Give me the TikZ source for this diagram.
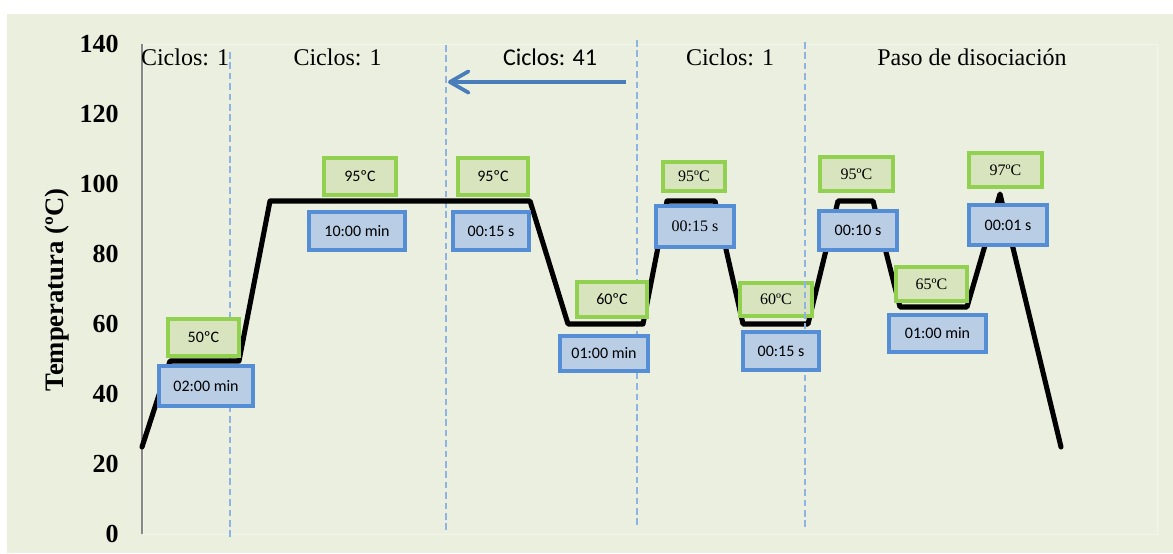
\documentclass[tikz,border=0pt]{standalone}
\usepackage{fontspec}
\setmainfont{Liberation Serif}
\newfontfamily\carlito{Carlito}
\usetikzlibrary{arrows.meta}

\definecolor{bgcol}{HTML}{EBEFDE}
\definecolor{plotcol}{HTML}{EBEFDF}
\definecolor{greenline}{HTML}{92D050}
\definecolor{greenfill}{HTML}{D7E4BD}
\definecolor{blueline}{HTML}{558ED5}
\definecolor{bluefill}{HTML}{B9CDE5}
\definecolor{dashcol}{HTML}{8EB4E3}
\definecolor{arrowcol}{HTML}{4A7EBB}
\definecolor{axiscol}{HTML}{878787}

\tikzset{
  boxsize/.style 2 args={minimum width=#1*0.75pt, minimum height=#2*0.75pt},
  tempbox/.style={draw=greenline, fill=greenfill, line width=2.9pt, inner sep=0pt},
  timebox/.style={draw=blueline, fill=bluefill, line width=2.9pt, inner sep=0pt},
  sanstext/.style={font=\carlito\fontsize{12}{14}\selectfont},
  seriftext/.style={font=\fontsize{12}{14}\selectfont},
  ticklabel/.style={anchor=east, inner sep=0pt, font=\bfseries\fontsize{19.5}{22}\selectfont},
  phaselabel/.style={anchor=base, inner sep=0pt, font=\fontsize{18}{20}\selectfont},
  divider/.style={draw=dashcol, line width=1.8pt, dash pattern=on 5pt off 2.8pt},
  profile/.style={draw=black, line width=3.8pt, line join=round, line cap=round},
}

\begin{document}
\begin{tikzpicture}[x=0.75pt, y=-0.75pt]
\useasboundingbox (0,0) rectangle (1173,553);
\fill[white] (0,0) rectangle (1173,553);
\fill[bgcol] (7,14) rectangle (1173,553);
\filldraw[fill=plotcol, draw=plotcol!60!white, line width=0.5pt] (143,44) rectangle (1157,534);

% vertical axis
\draw[axiscol, line width=1.2pt] (142,44) -- (142,534);

% tick labels
\foreach \v/\yy in {0/534, 20/464, 40/394, 60/324, 80/254, 100/184, 120/114, 140/44}
  \node[ticklabel] (tick\v) at (119,\yy) {\v};

% axis title
\node[rotate=90, inner sep=0pt, font=\bfseries\fontsize{20}{22}\selectfont] (ytitle) at (57,290) {Temperatura (ºC)};

% phase dividers
\draw[divider] (230,52) -- (230,540);
\draw[divider] (446,45) -- (446,533);
\draw[divider] (637,40) -- (637,528);

% temperature profile
\draw[profile] (142,447) -- (170,361) -- (239,361) -- (270,201) -- (530,201)
  -- (568,324) -- (643,324) -- (667,201) -- (715,201) -- (743,324) -- (808,324)
  -- (838,201) -- (873,201) -- (900,307) -- (967,307) -- (1000,194) -- (1061,447);

% temperature boxes
\node[tempbox, boxsize={71}{37}, sanstext] (g50) at (203.5,337.5) {50ºC};
\node[tempbox, boxsize={72}{37}, sanstext] (g95a) at (360,176.5) {95ºC};
\node[tempbox, boxsize={70}{37}, sanstext] (g95b) at (493,176.5) {95ºC};
\node[tempbox, boxsize={62}{29}, seriftext] (g95c) at (694,176.5) {95ºC};
\node[tempbox, boxsize={70}{35}, sanstext] (g60a) at (612,299.5) {60ºC};
\node[tempbox, boxsize={72}{33}, seriftext] (g60b) at (776,299.5) {60ºC};
\node[tempbox, boxsize={73}{34}, seriftext] (g95d) at (856.5,174) {95ºC};
\node[tempbox, boxsize={73}{34}, seriftext] (g97) at (1005.5,170) {97ºC};
\node[tempbox, boxsize={71}{34}, seriftext] (g65) at (931.5,284) {65ºC};

% hold-time boxes
\node[timebox, boxsize={94}{40}, sanstext] (b0200) at (206,386) {02:00 min};
\node[timebox, boxsize={96}{38}, sanstext] (b1000) at (357,231) {10:00 min};
\node[timebox, boxsize={76}{38}, sanstext] (b0015a) at (491,231) {00:15 s};
\node[timebox, boxsize={88}{35}, sanstext] (b0100a) at (604,353.5) {01:00 min};
\node[timebox, boxsize={78}{41}, seriftext] (b0015b) at (695,226.5) {00:15 s};
\node[timebox, boxsize={78}{39}, sanstext] (b0010) at (858,230.5) {00:10 s};
\node[timebox, boxsize={97}{37}, sanstext] (b0100b) at (937.5,333.5) {01:00 min};
\node[timebox, boxsize={78}{40}, sanstext] (b0001) at (1008,225) {00:01 s};

% last divider runs over the 60ºC box
\draw[divider] (805,42) -- (805,530);
\node[timebox, boxsize={76}{38}, sanstext] (b0015c) at (781,351) {00:15 s};

% phase headings
\node[phaselabel] (ph1) at (185,65) {Ciclos: 1};
\node[phaselabel] (ph2) at (337.5,65) {Ciclos: 1};
\node[phaselabel, font=\carlito\fontsize{18}{20}\selectfont] (ph3) at (550,65) {Ciclos: 41};
\node[phaselabel] (ph4) at (730,65) {Ciclos: 1};
\node[phaselabel] (ph5) at (972,65) {Paso de disociación};

% repeat arrow
\coordinate (repFrom) at (626,82);
\coordinate (repTo) at (448,82);
\draw[arrowcol, line width=2.8pt, -{Straight Barb[length=14pt, width=16pt, round]}] (repFrom) -- (repTo);
\end{tikzpicture}
\end{document}
